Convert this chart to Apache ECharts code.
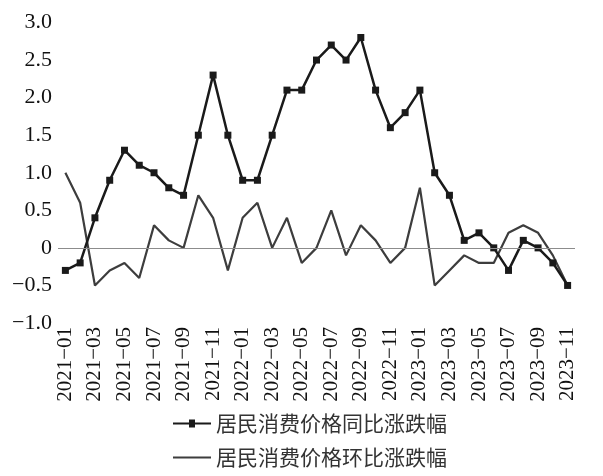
<!DOCTYPE html>
<html><head><meta charset="utf-8">
<script src="https://cdn.jsdelivr.net/npm/echarts@6/dist/echarts.min.js"></script>
<style>html,body{margin:0;padding:0;background:#fff}#c{width:603px;height:476px}</style>
</head><body><div id="c"></div>
<script>
const months = ['2021-01','2021-02','2021-03','2021-04','2021-05','2021-06','2021-07','2021-08','2021-09','2021-10','2021-11','2021-12',
'2022-01','2022-02','2022-03','2022-04','2022-05','2022-06','2022-07','2022-08','2022-09','2022-10','2022-11','2022-12',
'2023-01','2023-02','2023-03','2023-04','2023-05','2023-06','2023-07','2023-08','2023-09','2023-10','2023-11'];
const yoyName = '居民消费价格同比涨跌幅';
const momName = '居民消费价格环比涨跌幅';
const yoy = [-0.3,-0.2,0.4,0.9,1.3,1.1,1.0,0.8,0.7,1.5,2.3,1.5,
0.9,0.9,1.5,2.1,2.1,2.5,2.7,2.5,2.8,2.1,1.6,1.8,
2.1,1.0,0.7,0.1,0.2,0.0,-0.3,0.1,0.0,-0.2,-0.5];
const mom = [1.0,0.6,-0.5,-0.3,-0.2,-0.4,0.3,0.1,0.0,0.7,0.4,-0.3,
0.4,0.6,0.0,0.4,-0.2,0.0,0.5,-0.1,0.3,0.1,-0.2,0.0,
0.8,-0.5,-0.3,-0.1,-0.2,-0.2,0.2,0.3,0.2,-0.1,-0.5];
const yMin = -1.0, yMax = 3.0, yStep = 0.5;

const chart = echarts.init(document.getElementById('c'), null, {renderer:'canvas'});
const numFont = 'Liberation Serif';
const legendText = {fontFamily:'Noto Sans CJK SC', fontSize:21, color:'#333'};
chart.setOption({
  animation:false,
  backgroundColor:'#fff',
  grid:{left:58,right:28,top:22.5,bottom:153},
  legend:[
    {left:168, top:408, itemWidth:38, itemHeight:8, itemGap:6, textStyle:legendText,
     data:[{name:yoyName, icon:'path://M0 3H16V0H22V3H38V5H22V8H16V5H0Z', itemStyle:{color:'#1a1a1a'}}]},
    {left:168, top:442, itemWidth:38, itemHeight:2, itemGap:6, textStyle:legendText,
     data:[{name:momName, icon:'path://M0 0H38V2H0Z', itemStyle:{color:'#3d3d3d'}}]}
  ],
  xAxis:{
    type:'category', data:months, boundaryGap:true,
    axisLine:{show:false}, axisTick:{show:false},
    axisLabel:{interval:1, rotate:90, margin:4, fontFamily:numFont, fontSize:21, color:'#111',
      formatter:v=>v.replace('-','\u2212')}
  },
  yAxis:{
    type:'value', min:yMin, max:yMax, interval:yStep,
    axisLine:{show:false}, axisTick:{show:false}, splitLine:{show:false},
    axisLabel:{margin:6, fontFamily:numFont, fontSize:22, color:'#111',
      formatter:v=>v===0?'0':v.toFixed(1).replace('-','\u2212')}
  },
  series:[
    {name:yoyName, type:'line', data:yoy, symbol:'rect', symbolSize:7,
     lineStyle:{color:'#1a1a1a', width:2.5}, itemStyle:{color:'#1a1a1a'},
     markLine:{silent:true, symbol:'none', label:{show:false},
       lineStyle:{color:'#8c8c8c', width:1, type:'solid'}, data:[{yAxis:0}]}, z:3},
    {name:momName, type:'line', data:mom, symbol:'none',
     lineStyle:{color:'#3d3d3d', width:2.2}, itemStyle:{color:'#3d3d3d'}, z:2}
  ]
});
</script></body></html>
